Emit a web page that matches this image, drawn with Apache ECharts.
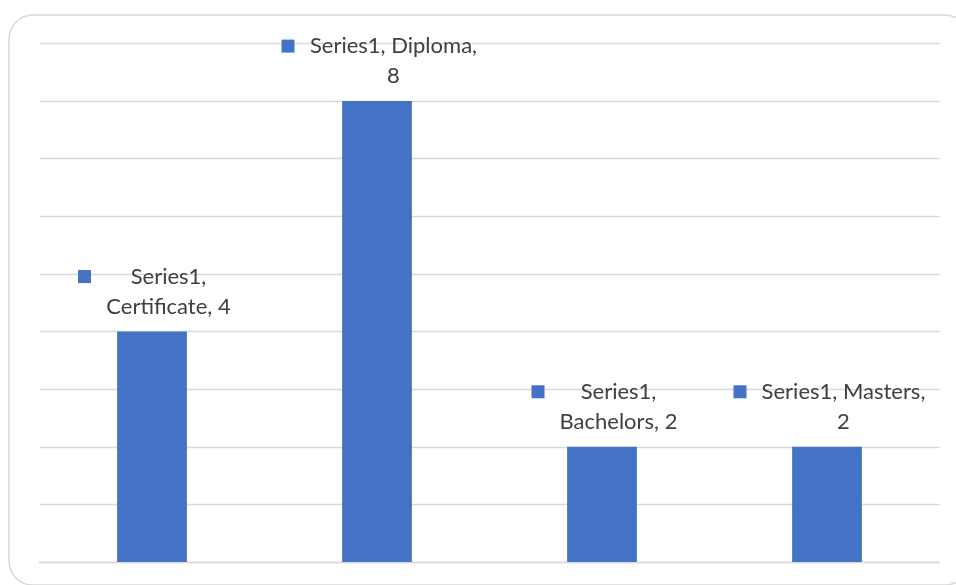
<!DOCTYPE html>
<html>
<head>
<meta charset="utf-8">
<script src="https://cdn.jsdelivr.net/npm/echarts@6/dist/echarts.min.js"></script>
<style>
  html, body { margin: 0; padding: 0; background: #fff; }
  #chart { width: 956px; height: 585px; }
</style>
</head>
<body>
<div id="chart"></div>
<script>
// Chart data
const seriesName = 'Series1';
const categories = ['Certificate', 'Diploma', 'Bachelors', 'Masters'];
const values = [4, 8, 2, 2];
const yMin = 0;
const yMax = 9;
const yStep = 1;

// Styling
const BAR_COLOR = '#4472C4';
const GRID_COLOR = '#d9d9d9';
const TEXT_COLOR = '#404040';
const FONT_FAMILY = 'Lato';
const FONT_SIZE = 22;
const WRAP_WIDTH = 180;

// Measure text so labels can wrap like word-wrapped callouts
const measureCtx = document.createElement('canvas').getContext('2d');
measureCtx.font = FONT_SIZE + 'px ' + FONT_FAMILY;
const textWidth = s => measureCtx.measureText(s).width;

function wrapText(text, maxW) {
  const words = text.split(' ');
  const lines = [];
  let cur = '';
  words.forEach(w => {
    const test = cur ? cur + ' ' + w : w;
    if (cur && textWidth(test) > maxW) {
      lines.push(cur);
      cur = w;
    } else {
      cur = test;
    }
  });
  if (cur) lines.push(cur);
  return lines;
}

const labelLines = categories.map((c, i) => wrapText(seriesName + ', ' + c + ', ' + values[i], WRAP_WIDTH));
const columnWidths = labelLines.map(ls => Math.ceil(Math.max(...ls.map(textWidth))) + 2);

const rich = {
  sq: { width: 13, height: 13, backgroundColor: BAR_COLOR, lineHeight: 30 },
  sp: { width: 13, height: 13, lineHeight: 30 },
  g: { width: 14, lineHeight: 30 }
};
columnWidths.forEach((w, i) => {
  rich['t' + i] = {
    width: w,
    align: 'center',
    color: TEXT_COLOR,
    fontFamily: FONT_FAMILY,
    fontSize: FONT_SIZE,
    lineHeight: 30
  };
});

const chart = echarts.init(document.getElementById('chart'), null, { renderer: 'canvas' });

chart.setOption({
  animation: false,
  backgroundColor: '#ffffff',
  graphic: [{
    type: 'rect',
    shape: { x: 9, y: 15, width: 960, height: 570, r: 24 },
    style: { fill: 'none', stroke: GRID_COLOR, lineWidth: 1.5 },
    silent: true,
    z: -10
  }],
  grid: { left: 39.5, right: 16.5, top: 43.5, bottom: 23, containLabel: false },
  xAxis: {
    type: 'category',
    data: categories,
    axisLine: { show: true, lineStyle: { color: GRID_COLOR, width: 1.3 } },
    axisTick: { show: false },
    axisLabel: { show: false },
    splitLine: { show: false }
  },
  yAxis: {
    type: 'value',
    min: yMin,
    max: yMax,
    interval: yStep,
    axisLine: { show: false },
    axisTick: { show: false },
    axisLabel: { show: false },
    splitLine: { show: true, lineStyle: { color: GRID_COLOR, width: 1.3 } }
  },
  series: [{
    name: seriesName,
    type: 'bar',
    data: values,
    barWidth: '31%',
    itemStyle: { color: BAR_COLOR },
    label: {
      show: true,
      position: 'top',
      distance: 10,
      offset: [3, 0],
      align: 'center',
      rich: rich,
      formatter: p => labelLines[p.dataIndex]
        .map((l, i) => '{' + (i === 0 ? 'sq' : 'sp') + '|}{g|}{t' + p.dataIndex + '|' + l + '}')
        .join('\n')
    }
  }]
});
</script>
</body>
</html>
